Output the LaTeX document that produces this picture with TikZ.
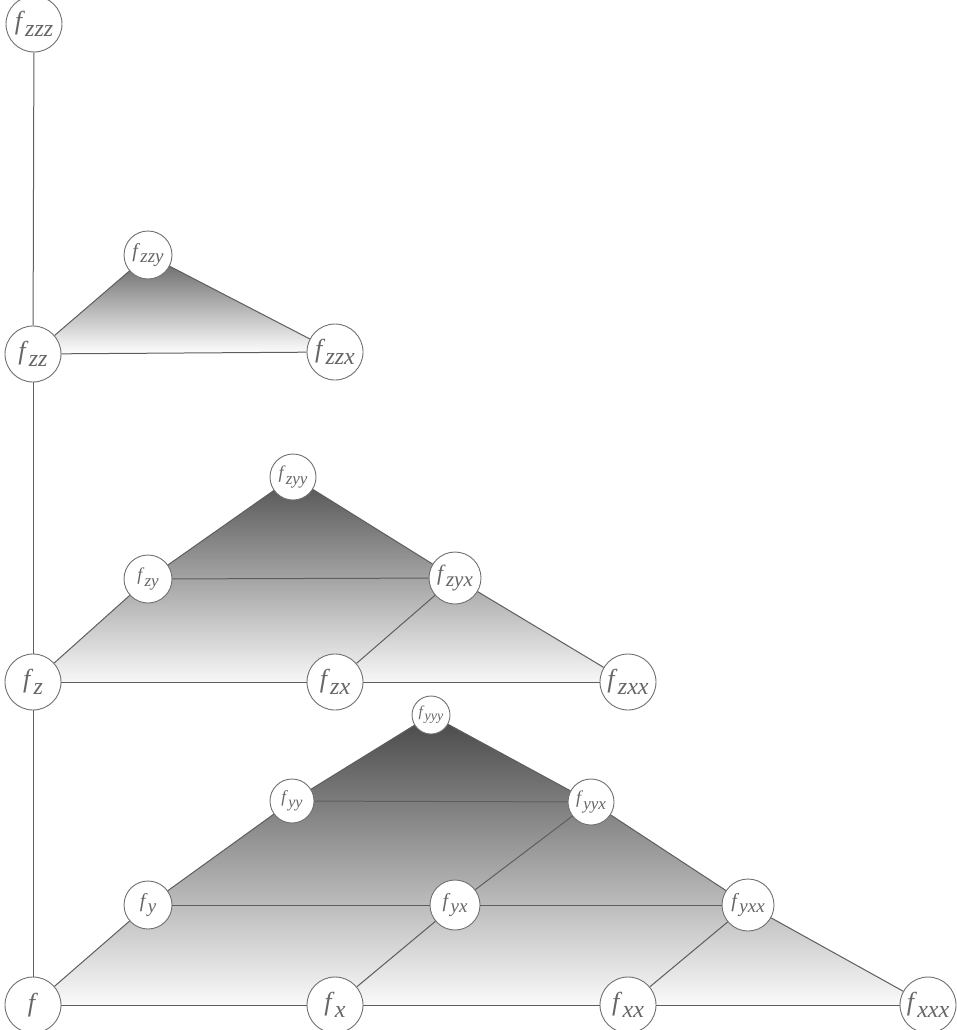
\documentclass[tikz,border=0pt]{standalone}
\usepackage{fontspec}
\setmainfont{Liberation Serif}
\definecolor{edgegray}{HTML}{5E5E5E}
\definecolor{circgray}{HTML}{707070}
\definecolor{txtgray}{HTML}{666666}
\newcommand\flab[3]{\fontsize{#1}{#1}\selectfont\textit{f}\kern0.01em\raisebox{-0.28em}{\fontsize{#2}{#2}\selectfont\textit{#3}}}
\tikzset{
  fn/.style={circle, draw=circgray, line width=0.9pt, fill=white, inner sep=0pt, text=txtgray, minimum size=#1},
  ed/.style={draw=edgegray, line width=1pt},
}
\begin{document}
\begin{tikzpicture}[x=1pt,y=-1pt]
\useasboundingbox (0,0) rectangle (957,1030);
% coordinates
\coordinate (Pzzz) at (34,24);
\coordinate (Pzzy) at (148,255);
\coordinate (Pzz) at (33,354);
\coordinate (Pzzx) at (335,352);
\coordinate (Pzyy) at (293,477);
\coordinate (Pzy) at (148,579);
\coordinate (Pzyx) at (455,578);
\coordinate (Pz) at (33,682);
\coordinate (Pzx) at (335,682);
\coordinate (Pzxx) at (628,682);
\coordinate (Pyyy) at (431,715);
\coordinate (Pyy) at (292,801);
\coordinate (Pyyx) at (591,802);
\coordinate (Py) at (148,905);
\coordinate (Pyx) at (455,905);
\coordinate (Pyxx) at (748,905);
\coordinate (Po) at (33,1005);
\coordinate (Px) at (335,1005);
\coordinate (Pxx) at (628,1005);
\coordinate (Pxxx) at (928,1005);
% shadings
\shade[top color=black!62, bottom color=white] (Pzz) -- (Pzzy) -- (Pzzx) -- cycle;
\shade[top color=black!68, middle color=black!32, bottom color=black!3] (Pz) -- (Pzy) -- (Pzyy) -- (Pzyx) -- (Pzxx) -- cycle;
\shade[top color=black!72, middle color=black!40, bottom color=black!2] (Po) -- (Py) -- (Pyy) -- (Pyyy) -- (Pyyx) -- (Pyxx) -- (Pxxx) -- cycle;
% nodes
\node[fn=56pt] (zzz) at (Pzzz) {\flab{26}{24}{zzz}};
\node[fn=48pt] (zzy) at (Pzzy) {\flab{20}{19}{zzy}};
\node[fn=56pt] (zz) at (Pzz) {\flab{26}{24}{zz}};
\node[fn=56pt] (zzx) at (Pzzx) {\flab{26}{24}{zzx}};
\node[fn=46pt] (zyy) at (Pzyy) {\flab{18}{17}{zyy}};
\node[fn=48pt] (zy) at (Pzy) {\flab{18}{17}{zy}};
\node[fn=52pt] (zyx) at (Pzyx) {\flab{22}{21}{zyx}};
\node[fn=56pt] (z) at (Pz) {\flab{26}{24}{z}};
\node[fn=56pt] (zx) at (Pzx) {\flab{26}{24}{zx}};
\node[fn=56pt] (zxx) at (Pzxx) {\flab{26}{24}{zxx}};
\node[fn=38pt] (yyy) at (Pyyy) {\flab{15}{14}{yyy}};
\node[fn=44pt] (yy) at (Pyy) {\flab{17}{16}{yy}};
\node[fn=46pt] (yyx) at (Pyyx) {\flab{18}{17}{yyx}};
\node[fn=48pt] (y) at (Py) {\flab{20}{19}{y}};
\node[fn=50pt] (yx) at (Pyx) {\flab{20}{19}{yx}};
\node[fn=52pt] (yxx) at (Pyxx) {\flab{20}{19}{yxx}};
\node[fn=56pt] (o) at (Po) {\fontsize{26}{26}\selectfont\textit{f}};
\node[fn=56pt] (x) at (Px) {\flab{26}{24}{x}};
\node[fn=56pt] (xx) at (Pxx) {\flab{26}{24}{xx}};
\node[fn=56pt] (xxx) at (Pxxx) {\flab{26}{24}{xxx}};
% edges
\path[ed] (zzz) -- (zz);
\path[ed] (zz) -- (z);
\path[ed] (z) -- (o);
\path[ed] (zz) -- (zzx);
\path[ed] (zz) -- (zzy);
\path[ed] (zzy) -- (zzx);
\path[ed] (z) -- (zx);
\path[ed] (zx) -- (zxx);
\path[ed] (zy) -- (zyx);
\path[ed] (z) -- (zy);
\path[ed] (zy) -- (zyy);
\path[ed] (zx) -- (zyx);
\path[ed] (zyy) -- (zyx);
\path[ed] (zyx) -- (zxx);
\path[ed] (o) -- (x);
\path[ed] (x) -- (xx);
\path[ed] (xx) -- (xxx);
\path[ed] (y) -- (yx);
\path[ed] (yx) -- (yxx);
\path[ed] (yy) -- (yyx);
\path[ed] (o) -- (y);
\path[ed] (y) -- (yy);
\path[ed] (yy) -- (yyy);
\path[ed] (x) -- (yx);
\path[ed] (yx) -- (yyx);
\path[ed] (xx) -- (yxx);
\path[ed] (yyy) -- (yyx);
\path[ed] (yyx) -- (yxx);
\path[ed] (yxx) -- (xxx);
\end{tikzpicture}
\end{document}
